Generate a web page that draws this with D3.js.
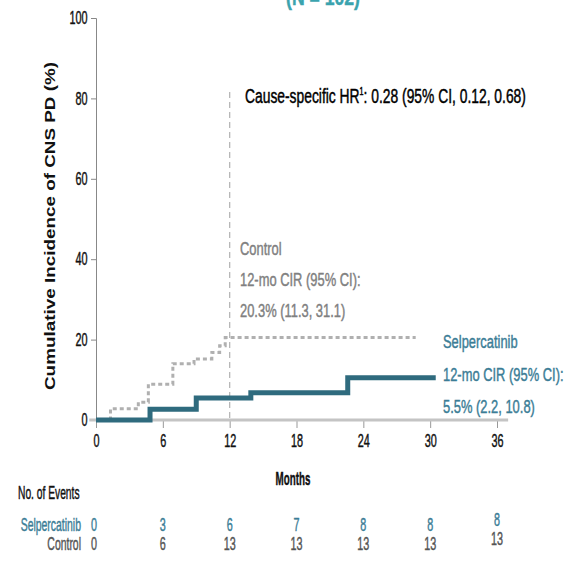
<!DOCTYPE html>
<html lang="en">
<head>
    <meta charset="UTF-8">
    <title>Cumulative Incidence of CNS PD</title>
    <script src="https://cdnjs.cloudflare.com/ajax/libs/d3/7.8.5/d3.min.js"></script>
    <style>
        body { margin: 0; background: #fff; }
        svg text { font-family: "Liberation Sans", Arial, sans-serif; }
    </style>
</head>
<body>
    <div id="chart"></div>
    <script>
        // step data (months, cumulative incidence %)
        const selpTimes = [0, 4.85, 9.0, 13.9, 22.6, 30.5];
        const selpCIR = [0, 2.7, 5.5, 6.8, 10.5, 10.5];
        const ctrlTimes = [0, 1.3, 3.8, 4.7, 6.9, 8.8, 10.4, 11.1, 11.6, 28.7];
        const ctrlCIR = [0, 2.8, 4.4, 8.9, 14.0, 15.2, 16.8, 18.5, 20.5, 20.5];

        // risk table
        const tableMonths = [0, 6, 12, 18, 24, 30, 36];
        const selpEvents = [0, 3, 6, 7, 8, 8, 8];
        const ctrlEvents = [0, 6, 13, 13, 13, 13, 13];

        const xTicks = [0, 6, 12, 18, 24, 30, 36];
        const yTicks = [0, 20, 40, 60, 80, 100];

        const teal = "#2f6b7e";
        const tealText = "#3b7d96";
        const grey = "#b0b0b0";
        const greyText = "#808080";

        const svg = d3.select("#chart").append("svg")
            .attr("width", 564)
            .attr("height", 561);

        const x = d3.scaleLinear().domain([0, 36]).range([96, 497]);
        const y = d3.scaleLinear().domain([0, 100]).range([420, 18]);

        // narrow text: Liberation Sans squeezed horizontally, slightly thickened
        function narrow(str, px, py, size, sx, fill, anchor, weight) {
            return svg.append("text")
                .attr("transform", `translate(${px},${py}) scale(${sx},1)`)
                .attr("font-size", size)
                .attr("fill", fill)
                .attr("stroke", fill)
                .attr("stroke-width", 0.45)
                .attr("text-anchor", anchor || "start")
                .attr("font-weight", weight || "normal")
                .text(str);
        }

        // cut-off header
        narrow("(N = 102)", 323, 5, 22, 0.8, "#3aa3ae", "middle", "bold");

        // y axis
        const yAxis = svg.append("g")
            .attr("transform", `translate(${x(0)},0)`)
            .call(d3.axisLeft(y).tickValues(yTicks).tickSize(5).tickPadding(4));
        yAxis.select(".domain").attr("stroke", "#888");
        yAxis.selectAll(".tick line").attr("stroke", "#888");
        yAxis.selectAll(".tick text")
            .attr("font-size", 17.5)
            .attr("fill", "#111")
            .attr("stroke", "#111")
            .attr("stroke-width", 0.45)
            .attr("font-family", null)
            .attr("x", -8.5 / 0.62)
            .attr("transform", "scale(0.62,1)");

        // x axis
        const xAxis = svg.append("g")
            .attr("transform", `translate(0,${y(0)})`)
            .call(d3.axisBottom(x).tickValues(xTicks).tickSize(8).tickPadding(6));
        xAxis.select(".domain").remove();
        xAxis.selectAll(".tick line").attr("stroke", "#999");
        xAxis.selectAll(".tick text")
            .attr("font-size", 17.5)
            .attr("fill", "#111")
            .attr("stroke", "#111")
            .attr("stroke-width", 0.45)
            .attr("font-family", null)
            .attr("y", 15)
            .attr("transform", "scale(0.62,1)");
        svg.append("line")
            .attr("x1", x(-0.6)).attr("x2", x(37.0))
            .attr("y1", y(0)).attr("y2", y(0))
            .attr("stroke", "#c4c4c4")
            .attr("stroke-width", 3);

        // y title
        svg.append("text")
            .attr("transform", `translate(55,${(62 + 390) / 2}) rotate(-90)`)
            .attr("text-anchor", "middle")
            .attr("font-weight", "bold")
            .attr("font-size", 15)
            .attr("fill", "#111")
            .attr("textLength", 328)
            .attr("lengthAdjust", "spacingAndGlyphs")
            .text("Cumulative Incidence of CNS PD (%)");

        // 12-month reference
        svg.append("line")
            .attr("x1", x(12)).attr("x2", x(12))
            .attr("y1", 92).attr("y2", y(0))
            .attr("stroke", "#b8b8b8")
            .attr("stroke-width", 1.3)
            .attr("stroke-dasharray", "6,4");

        const line = d3.line()
            .x(d => x(d[0]))
            .y(d => y(d[1]))
            .curve(d3.curveStepAfter);

        svg.append("path")
            .datum(ctrlTimes.map((t, i) => [t, ctrlCIR[i]]))
            .attr("d", line)
            .attr("fill", "none")
            .attr("stroke", grey)
            .attr("stroke-width", 3)
            .attr("stroke-dasharray", "4,3");

        svg.append("path")
            .datum(selpTimes.map((t, i) => [t, selpCIR[i]]))
            .attr("d", line)
            .attr("fill", "none")
            .attr("stroke", teal)
            .attr("stroke-width", 5);

        // annotations
        const hr = narrow("", 245, 103, 19.5, 0.71, "#000");
        hr.append("tspan").text("Cause-specific HR");
        hr.append("tspan").attr("font-size", 10).attr("dy", -8).text("1");
        hr.append("tspan").attr("dy", 8).text(": 0.28 (95% CI, 0.12, 0.68)");

        ["Control", "12-mo CIR (95% CI):", "20.3% (11.3, 31.1)"].forEach((s, i) => {
            narrow(s, 240, 255 + i * 31, 19, 0.68, greyText);
        });

        ["Selpercatinib", "12-mo CIR (95% CI):", "5.5% (2.2, 10.8)"].forEach((s, i) => {
            narrow(s, 443, 348 + i * 32.5, 19, 0.68, tealText);
        });

        // x title
        narrow("Months", 293, 485, 18.5, 0.53, "#111", "middle", "bold");

        // risk table
        narrow("No. of Events", 18, 499, 18, 0.57, "#111");

        const rows = [
            { label: "Selpercatinib", values: selpEvents, color: tealText, yy: 531 },
            { label: "Control", values: ctrlEvents, color: "#555", yy: 550 }
        ];
        rows.forEach(r => {
            narrow(r.label, 81, r.yy, 18, 0.58, r.color, "end");
            tableMonths.forEach((m, i) => {
                const last = i === tableMonths.length - 1;
                narrow(String(r.values[i]), m === 0 ? x(m) - 2 : x(m), last ? r.yy - 5 : r.yy,
                    18, 0.6, r.color, "middle");
            });
        });
    </script>
</body>
</html>
